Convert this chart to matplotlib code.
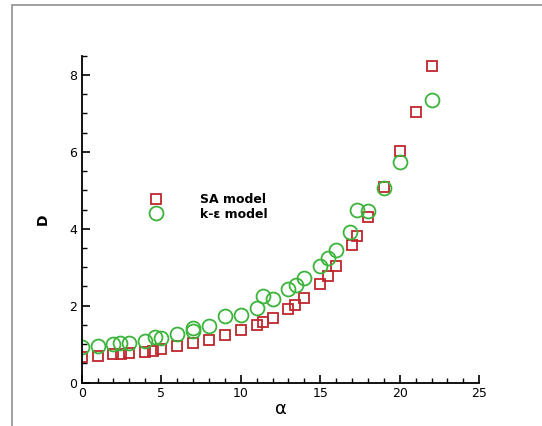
import matplotlib.pyplot as plt
from matplotlib.patches import Rectangle
from matplotlib.ticker import MultipleLocator

# SA model
sa_alpha = [0, 1, 2, 2.45, 3, 4, 4.5, 5, 6, 7, 8, 9, 10, 11, 11.4, 12,
            13, 13.4, 14, 15, 15.5, 16, 17, 17.3, 18, 19, 20, 21, 22]
sa_d = [0.67, 0.70, 0.74, 0.74, 0.77, 0.81, 0.83, 0.87, 0.95, 1.03, 1.11, 1.23,
        1.36, 1.51, 1.58, 1.69, 1.92, 2.03, 2.21, 2.57, 2.77, 3.03, 3.59, 3.80,
        4.30, 5.09, 6.03, 7.04, 8.24]

# k-epsilon model
ke_alpha = [0, 1, 2, 2.4, 3, 4, 4.6, 5, 6, 7, 7, 8, 9, 10, 11, 11.4, 12,
            13, 13.5, 14, 15, 15.5, 16, 16.9, 17.3, 18, 19, 20, 22]
ke_d = [0.93, 0.96, 1.00, 1.04, 1.04, 1.09, 1.19, 1.15, 1.26, 1.43, 1.35, 1.48,
        1.74, 1.77, 1.94, 2.25, 2.17, 2.43, 2.55, 2.72, 3.04, 3.25, 3.45, 3.91,
        4.50, 4.46, 5.06, 5.74, 7.35]

fig = plt.figure(figsize=(5.42, 4.26), dpi=100)
ax = fig.add_axes([0.1507, 0.1016, 0.7336, 0.768])

ax.plot(sa_alpha, sa_d, ls='none', marker='s', ms=6.5, mfc='none',
        mec='#c0262d', mew=1.3, label='SA model')
ax.plot(ke_alpha, ke_d, ls='none', marker='o', ms=10, mfc='none',
        mec='#3cb43c', mew=1.3, label='k-\u03b5 model')

ax.set_xlim(0, 25)
ax.set_ylim(0, 8.5)
ax.spines['top'].set_visible(False)
ax.spines['right'].set_visible(False)
ax.spines['left'].set_linewidth(1.3)
ax.spines['bottom'].set_linewidth(1.3)

ax.xaxis.set_major_locator(MultipleLocator(5))
ax.xaxis.set_minor_locator(MultipleLocator(1))
ax.yaxis.set_major_locator(MultipleLocator(2))
ax.yaxis.set_minor_locator(MultipleLocator(0.5))
ax.tick_params(which='major', direction='in', length=6, width=1.2,
               labelsize=9, colors='black')
ax.tick_params(which='minor', direction='in', length=3.5, width=1)
ax.tick_params(axis='x', pad=3)

ax.set_xlabel('\u03b1', fontsize=13, labelpad=0)
ax.set_ylabel('D', fontsize=10, fontweight='bold', labelpad=14)

leg = ax.legend(loc='upper left', bbox_to_anchor=(0.144, 0.6145), frameon=False,
                handletextpad=2.95, handlelength=1.0, labelspacing=0.15,
                prop={'weight': 'bold', 'size': 9})

fig.patches.append(Rectangle((12 / 542, -0.01), 1.0, 1 - 5 / 426 + 0.01,
                             transform=fig.transFigure, fill=False,
                             edgecolor='#909090', lw=1.2, clip_on=False))

fig.savefig('out.png', dpi=100)
